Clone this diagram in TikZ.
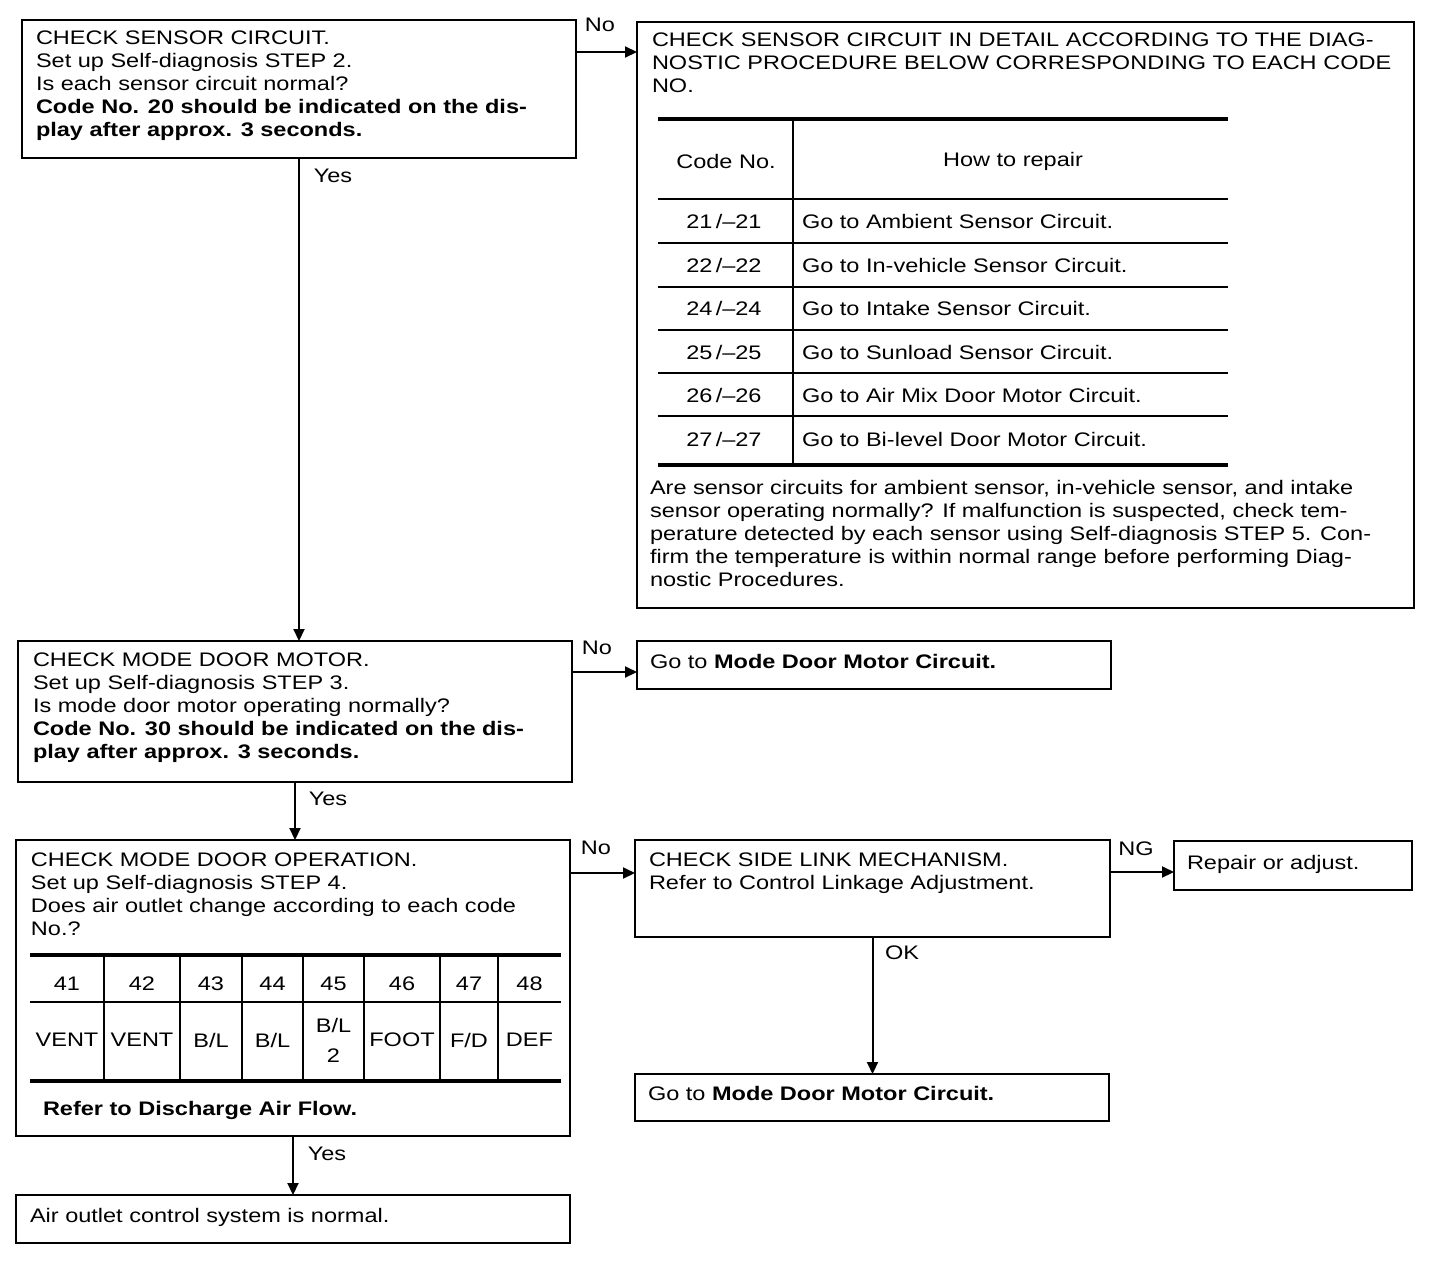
\documentclass[tikz,border=0pt]{standalone}
\usepackage{fontspec}
\setmainfont[FakeStretch=1.2]{Liberation Sans}
\usetikzlibrary{arrows.meta}
\newcommand\mainsz{\fontsize{9.8}{11.5}\selectfont}
\tikzset{
  box/.style={draw, line width=1.1pt, inner sep=0pt, outer sep=0pt, anchor=north west},
  txt/.style={inner sep=0pt, outer sep=0pt, anchor=north west, align=left, font=\mainsz},
  ctr/.style={inner sep=0pt, outer sep=0pt, anchor=center, align=center, font=\mainsz},
  lbl/.style={inner sep=0pt, outer sep=0pt, anchor=center, font=\mainsz},
  arr/.style={line width=1pt, -{Triangle[length=6pt,width=5.5pt]}},
  thick rule/.style={line width=2pt},
  thin rule/.style={line width=1pt}
}
\begin{document}
\begin{tikzpicture}[x=0.5pt,y=-0.5pt]
\useasboundingbox (0,0) rectangle (1456,1264);

% ---- boxes ----
\node[box, minimum width=277pt, minimum height=69pt] (b1) at (22,20) {};
\node[box, minimum width=388.5pt, minimum height=293pt] (b2) at (637,22) {};
\node[box, minimum width=277pt, minimum height=70.5pt] (b3) at (18,641) {};
\node[box, minimum width=237pt, minimum height=24pt] (b4) at (637,641) {};
\node[box, minimum width=277pt, minimum height=148pt] (b5) at (16,840) {};
\node[box, minimum width=237.5pt, minimum height=48.5pt] (b6) at (635,840) {};
\node[box, minimum width=119pt, minimum height=24.5pt] (b7) at (1174,841) {};
\node[box, minimum width=237pt, minimum height=23.5pt] (b8) at (635,1074) {};
\node[box, minimum width=277pt, minimum height=24pt] (b9) at (16,1195) {};

% ---- texts ----
\node[txt] (t1) at (36,31) {CHECK SENSOR CIRCUIT.\\
Set up Self-diagnosis STEP 2.\\
Is each sensor circuit normal?\\
\textbf{Code No. 20 should be indicated on the dis-}\\
\textbf{play after approx. 3 seconds.}};

\node[txt] (t2) at (652,33) {CHECK SENSOR CIRCUIT IN DETAIL ACCORDING TO THE DIAG-\\
NOSTIC PROCEDURE BELOW CORRESPONDING TO EACH CODE\\
NO.};

\node[txt] (t2b) at (650,480) {Are sensor circuits for ambient sensor, in-vehicle sensor, and intake\\
sensor operating normally? If malfunction is suspected, check tem-\\
perature detected by each sensor using Self-diagnosis STEP 5. Con-\\
firm the temperature is within normal range before performing Diag-\\
nostic Procedures.};

\node[txt] (t3) at (33,653) {CHECK MODE DOOR MOTOR.\\
Set up Self-diagnosis STEP 3.\\
Is mode door motor operating normally?\\
\textbf{Code No. 30 should be indicated on the dis-}\\
\textbf{play after approx. 3 seconds.}};

\node[txt] (t4) at (650,654) {Go to \textbf{Mode Door Motor Circuit.}};

\node[txt] (t5) at (31,853) {CHECK MODE DOOR OPERATION.\\
Set up Self-diagnosis STEP 4.\\
Does air outlet change according to each code\\
No.?};

\node[txt] (t5b) at (43,1101) {\textbf{Refer to Discharge Air Flow.}};

\node[txt] (t6) at (649,853) {CHECK SIDE LINK MECHANISM.\\
Refer to Control Linkage Adjustment.};

\node[txt] (t7) at (1187,855) {Repair or adjust.};
\node[txt] (t8) at (648,1086) {Go to \textbf{Mode Door Motor Circuit.}};
\node[txt] (t9) at (30,1208) {Air outlet control system is normal.};

% ---- code table (top right) ----
\draw[thick rule] (658,119) -- (1228,119);
\draw[thick rule] (658,465) -- (1228,465);
\foreach \yy in {199,243,287,330,373,416} \draw[thin rule] (658,\yy) -- (1228,\yy);
\draw[thin rule] (793,119) -- (793,465);
\node[lbl] (h1) at (726,161) {Code No.};
\node[lbl] (h2) at (1013,161) {How to repair};
\foreach \yy/\cc/\tt [count=\i] in {
  221/21/Go to Ambient Sensor Circuit.,
  265/22/Go to In-vehicle Sensor Circuit.,
  308/24/Go to Intake Sensor Circuit.,
  352/25/Go to Sunload Sensor Circuit.,
  395/26/Go to Air Mix Door Motor Circuit.,
  439/27/Go to Bi-level Door Motor Circuit.}{
  \node[lbl] (c\i) at (724,\yy) {\cc\,/--\cc};
  \node[lbl, anchor=west] (r\i) at (802,\yy) {\tt};
}

% ---- mode table (B5) ----
\draw[thick rule] (30,955) -- (561,955);
\draw[thin rule] (30,1002) -- (561,1002);
\draw[thick rule] (30,1081) -- (561,1081);
\foreach \xx in {104,180,242,303,364,440,498} \draw[thin rule] (\xx,955) -- (\xx,1081);
\foreach \xx/\cc/\mm [count=\i] in {
  67/41/VENT, 142/42/VENT, 211/43/{B/L}, 272.5/44/{B/L},
  333.5/45/{B/L\\[3.5pt]2}, 402/46/FOOT, 469/47/{F/D}, 529.5/48/DEF}{
  \node[lbl] (k\i) at (\xx,984) {\cc};
  \node[ctr] (m\i) at (\xx,1040) {\mm};
}

% ---- connectors ----
\coordinate (p1) at ([yshift=-16pt]b1.north east);
\coordinate (p3) at ([yshift=-15.5pt]b3.north east);
\coordinate (p5) at ([yshift=-16.5pt]b5.north east);
\coordinate (p6) at ([yshift=-16pt]b6.north east);
\draw[arr] (p1) -- (p1 -| b2.west);
\draw[arr] (p3) -- (p3 -| b4.west);
\draw[arr] (p5) -- (p5 -| b6.west);
\draw[arr] (p6) -- (p6 -| b7.west);
\draw[arr] (b1.south) -- (b1.south |- b3.north);
\draw[arr] (b3.south) -- (b3.south |- b5.north);
\draw[arr] (b5.south) -- (b5.south |- b9.north);
\draw[arr] (b6.south) -- (b6.south |- b8.north);

% ---- connector labels ----
\node[lbl] (l1) at (600,25) {No};
\node[lbl] (l2) at (333,176) {Yes};
\node[lbl] (l3) at (597,648) {No};
\node[lbl] (l4) at (328,799) {Yes};
\node[lbl] (l5) at (596,848) {No};
\node[lbl] (l6) at (1136,849) {NG};
\node[lbl] (l7) at (902,953) {OK};
\node[lbl] (l8) at (327,1154) {Yes};
\end{tikzpicture}
\end{document}
